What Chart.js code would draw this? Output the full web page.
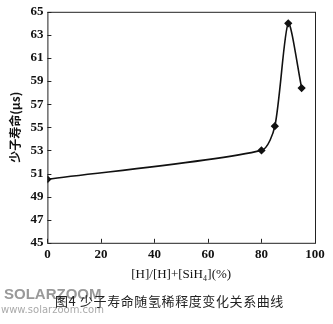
<!DOCTYPE html>
<html>
<head>
<meta charset="utf-8">
<script src="https://cdn.jsdelivr.net/npm/chart.js@4"></script>
<style>
  body { margin: 0; background: #fff; }
  #wrap { position: relative; width: 333px; height: 324px; }
  .cap { position: absolute; left: 55px; top: 291px; font: 13px "Noto Sans CJK SC"; color: #222; letter-spacing: 0.6px; }
  .wm1 { position: absolute; left: 4px; top: 285px; font: bold 15px "Liberation Sans"; color: #999; }
  .wm2 { position: absolute; left: 1px; top: 304px; font: 10px "DejaVu Sans"; color: #aaa; }
</style>
</head>
<body>
<div id="wrap">
  <canvas id="lifeChart" width="333" height="324"></canvas>
  <div class="wm1">SOLARZOOM</div>
  <div class="wm2">www.solarzoom.com</div>
  <div class="cap">图4 少子寿命随氢稀释度变化关系曲线</div>
</div>
<script>
// dilution ratio (%) and minority carrier lifetime (us)
var dilution = [0, 80, 85, 90, 95];
var lifetime = [50.5, 53.0, 55.1, 64.0, 58.4];
var xTicks = [0, 20, 40, 60, 80, 100];
var yTicks = [45, 47, 49, 51, 53, 55, 57, 59, 61, 63, 65];

var points = dilution.map((d, i) => ({ x: d, y: lifetime[i] }));

// frame + inward tick marks
var framePlugin = {
    id: 'frame',
    afterDraw: function(chart) {
        var c = chart.ctx, a = chart.chartArea;
        var xs = chart.scales.x, ys = chart.scales.y;
        c.save();
        c.strokeStyle = '#222';
        c.lineWidth = 1;
        c.strokeRect(a.left + 0.5, a.top + 0.5, a.right - a.left, a.bottom - a.top);
        c.beginPath();
        xTicks.forEach(function(v) {
            var px = Math.round(xs.getPixelForValue(v)) + 0.5;
            c.moveTo(px, a.bottom);
            c.lineTo(px, a.bottom - 4);
        });
        yTicks.forEach(function(v) {
            var py = Math.round(ys.getPixelForValue(v)) + 0.5;
            c.moveTo(a.left, py);
            c.lineTo(a.left + 4, py);
        });
        c.stroke();
        c.restore();
    }
};

var ctx = document.getElementById('lifeChart').getContext('2d');
var lifeChart = new Chart(ctx, {
    type: 'line',
    data: {
        datasets: [{
            data: points,
            borderColor: '#111',
            backgroundColor: '#111',
            borderWidth: 1.6,
            fill: false,
            tension: 0.25,
            pointStyle: 'rectRot',
            pointRadius: 3,
        }]
    },
    options: {
        responsive: false,
        animation: false,
        layout: { padding: { top: 10, right: 18, bottom: 42, left: 8 } },
        plugins: {
            legend: { display: false },
            tooltip: { enabled: false }
        },
        scales: {
            x: {
                type: 'linear',
                min: 0,
                max: 100,
                afterBuildTicks: function(s) { s.ticks = xTicks.map(v => ({ value: v })); },
                grid: { display: false, drawTicks: false },
                border: { display: false },
                ticks: { color: '#111', padding: 4, font: { family: 'Liberation Serif', size: 13, weight: 'bold' } },
                title: {
                    display: true,
                    text: '[H]/[H]+[SiH\u2084](%)',
                    color: '#111',
                    padding: { top: 0, bottom: 0 },
                    font: { family: 'Liberation Serif', size: 13 }
                }
            },
            y: {
                min: 45,
                max: 65,
                afterBuildTicks: function(s) { s.ticks = yTicks.map(v => ({ value: v })); },
                grid: { display: false, drawTicks: false },
                border: { display: false },
                ticks: { color: '#111', padding: 4, font: { family: 'Liberation Serif', size: 13, weight: 'bold' } },
                title: {
                    display: true,
                    text: '少子寿命(μs)',
                    color: '#111',
                    padding: { top: 0, bottom: 4 },
                    font: { family: 'Noto Sans CJK SC', size: 12, weight: 'bold' }
                }
            }
        }
    },
    plugins: [framePlugin]
});
</script>
</body>
</html>
